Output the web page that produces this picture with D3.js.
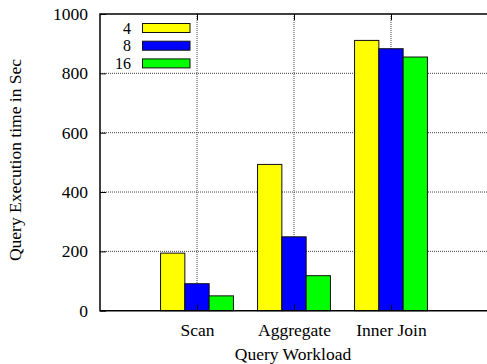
<!DOCTYPE html>
<html><head><meta charset="utf-8">
<script src="https://cdn.jsdelivr.net/npm/d3@7/dist/d3.min.js"></script>
<style>body{margin:0;background:#fff}svg{display:block}svg text{font-family:"Liberation Serif","Times New Roman",serif !important;fill:#000}</style>
</head><body>
<svg id="c" width="487" height="364"></svg>
<script>
const categories = ["Scan", "Aggregate", "Inner Join"];
const seriesNames = ["4", "8", "16"];
const seriesColors = ["#ffff00", "#0000ff", "#00ff00"];
const values4 = [194, 493, 911];
const values8 = [91, 249, 883];
const values16 = [50, 118, 855];
const yTicks = [0, 200, 400, 600, 800, 1000];
const series = [values4, values8, values16];

const FONT = "Liberation Serif, Times New Roman, serif";
const FS = 17.5;
const svg = d3.select("#c");
const L = 100, R = 488, T = 14, B = 310.7;
const x = d3.scaleLinear().domain([0, 4]).range([L, R]);
const y = d3.scaleLinear().domain([0, 1000]).range([B, T]);
const barW = 24.3;

// grid
const g = svg.append("g");
g.selectAll("line.hy").data(yTicks.filter(t => t > 0 && t < 1000)).enter().append("line")
  .attr("x1", L).attr("x2", R).attr("y1", d => y(d)).attr("y2", d => y(d))
  .attr("stroke", "#444").attr("stroke-width", 1).attr("stroke-dasharray", "1,1");
g.selectAll("line.vx").data(categories).enter().append("line")
  .attr("x1", (d, i) => x(i + 1)).attr("x2", (d, i) => x(i + 1)).attr("y1", T).attr("y2", B)
  .attr("stroke", "#444").attr("stroke-width", 1).attr("stroke-dasharray", "1,1");

// bars
series.forEach((vals, s) => {
  svg.append("g").selectAll("rect").data(vals).enter().append("rect")
    .attr("x", (d, i) => x(i + 1) - 1.5 * barW + s * barW)
    .attr("y", d => y(d))
    .attr("width", barW)
    .attr("height", d => B - y(d))
    .attr("fill", seriesColors[s])
    .attr("stroke", "#111").attr("stroke-width", 1);
});

// border
svg.append("path").attr("d", `M${R},${T}H${L}V${B}H${R}`).attr("fill", "none").attr("stroke", "#000").attr("stroke-width", 1.5);

// axes
const yAxis = d3.axisLeft(y).tickValues(yTicks).tickSize(-6).tickPadding(12).tickFormat(d3.format("d"));
const ya = svg.append("g").attr("transform", `translate(${L},0)`).call(yAxis)
  .attr("font-family", FONT).attr("font-size", FS);
ya.select(".domain").remove();

const xAxis = d3.axisBottom(x).tickValues([1, 2, 3]).tickSize(-6).tickPadding(13).tickFormat(d => categories[d - 1]);
const xa = svg.append("g").attr("transform", `translate(0,${B})`).call(xAxis)
  .attr("font-family", FONT).attr("font-size", FS);
xa.select(".domain").remove();

const xTop = d3.axisTop(x).tickValues([1, 2, 3]).tickSize(-6).tickFormat("");
const xt = svg.append("g").attr("transform", `translate(0,${T})`).call(xTop);
xt.select(".domain").remove();

// axis titles
svg.append("text").attr("x", 293).attr("y", 360).attr("text-anchor", "middle")
  .attr("font-size", FS).text("Query Workload");
svg.append("text").attr("transform", `translate(21,160) rotate(-90)`).attr("text-anchor", "middle")
  .attr("font-size", FS).text("Query Execution time in Sec");

// legend
const leg = svg.append("g");
seriesNames.forEach((n, i) => {
  const cy = 28 + i * 17.7;
  leg.append("text").attr("x", 131).attr("y", cy + 5.5).attr("text-anchor", "end").attr("font-size", 16).text(n);
  leg.append("rect").attr("x", 142.5).attr("y", cy - 4.5).attr("width", 47.5).attr("height", 9)
    .attr("fill", seriesColors[i]).attr("stroke", "#111").attr("stroke-width", 1);
});
</script>
</body></html>
